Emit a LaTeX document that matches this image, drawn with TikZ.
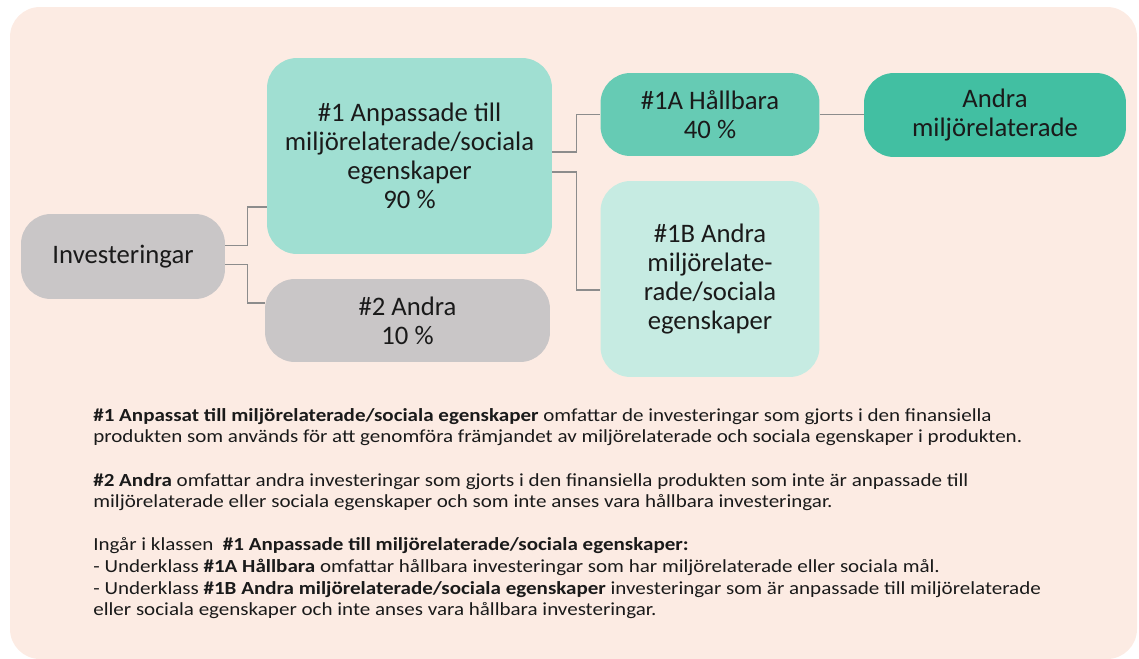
\documentclass[tikz,border=0pt]{standalone}
\usepackage{fontspec}
\setmainfont{Carlito}
\newfontfamily\notesfont[FakeStretch=1.14]{Carlito}
\usetikzlibrary{calc}
\definecolor{bgpeach}{HTML}{FCEBE3}
\definecolor{boxgray}{HTML}{C9C6C7}
\definecolor{mintlight}{HTML}{A0DFD2}
\definecolor{mintmid}{HTML}{66CBB4}
\definecolor{mintdark}{HTML}{42BFA2}
\definecolor{mintpale}{HTML}{C6EBE2}
\definecolor{linegray}{HTML}{8C8C8C}
\definecolor{textdark}{HTML}{1A1A1A}
\begin{document}
\begin{tikzpicture}[x=0.02cm,y=-0.02cm,
    box/.style={rectangle,rounded corners=0.6cm,inner sep=0pt,align=center,
                text=textdark,font=\fontsize{15.2}{16.4}\selectfont},
    link/.style={draw=linegray,line width=0.75pt}]
    \useasboundingbox (0,0) rectangle (1139,659);
    \path[fill=bgpeach,rounded corners=0.6cm] (10,7) rectangle (1137,659);

    % boxes
    \node[box,fill=boxgray,minimum width=4.08cm,minimum height=1.7cm] (inv) at (123,256.5) {Investeringar};
    \node[box,fill=mintlight,minimum width=5.7cm,minimum height=3.92cm] (a1) at (409.5,156)
        {\#1 Anpassade till\\miljörelaterade/sociala\\egenskaper\\90 \%};
    \node[box,fill=boxgray,minimum width=5.7cm,minimum height=1.66cm] (a2) at (407.5,320.5) {\#2 Andra\\10 \%};
    \node[box,fill=mintmid,minimum width=4.38cm,minimum height=1.66cm] (a1a) at (710,114.5) {\#1A Hållbara\\40 \%};
    \node[box,fill=mintdark,minimum width=5.24cm,minimum height=1.68cm] (andra) at (995,115) {Andra\\miljörelaterade};
    \node[box,fill=mintpale,minimum width=4.38cm,minimum height=3.92cm] (a1b) at (710,279)
        {\#1B Andra\\miljörelate-\\rade/sociala\\egenskaper};

    % connectors
    \path[link] ($(inv.east)+(0,-11)$) -- ++(22,0) |- ($(a1.west)+(0,51)$);
    \path[link] ($(inv.east)+(0,8)$) -- ++(22,0) |- ($(a2.west)+(0,-17.5)$);
    \path[link] ($(a1.east)+(0,-4)$) -- ++(24,0) |- (a1a.west);
    \path[link] ($(a1.east)+(0,16)$) -- ++(24,0) |- ($(a1b.west)+(0,11)$);
    \path[link] (a1a.east) -- (a1a.east -| andra.west);

    % explanations
    \node[anchor=north west,inner sep=0pt,align=left,text=textdark,
          font=\notesfont\fontsize{10.5}{12.3}\selectfont] (notes) at (93,408)
        {\textbf{\#1 Anpassat till miljörelaterade/sociala egenskaper} omfattar de investeringar som gjorts i den finansiella\\
         produkten som används för att genomföra främjandet av miljörelaterade och sociala egenskaper i produkten.\\[12.3pt]
         \textbf{\#2 Andra} omfattar andra investeringar som gjorts i den finansiella produkten som inte är anpassade till\\
         miljörelaterade eller sociala egenskaper och som inte anses vara hållbara investeringar.\\[12.3pt]
         Ingår i klassen\ \ \textbf{\#1 Anpassade till miljörelaterade/sociala egenskaper:}\\
         - Underklass \textbf{\#1A Hållbara} omfattar hållbara investeringar som har miljörelaterade eller sociala mål.\\
         - Underklass \textbf{\#1B Andra miljörelaterade/sociala egenskaper} investeringar som är anpassade till miljörelaterade\\
         eller sociala egenskaper och inte anses vara hållbara investeringar.};
\end{tikzpicture}
\end{document}
